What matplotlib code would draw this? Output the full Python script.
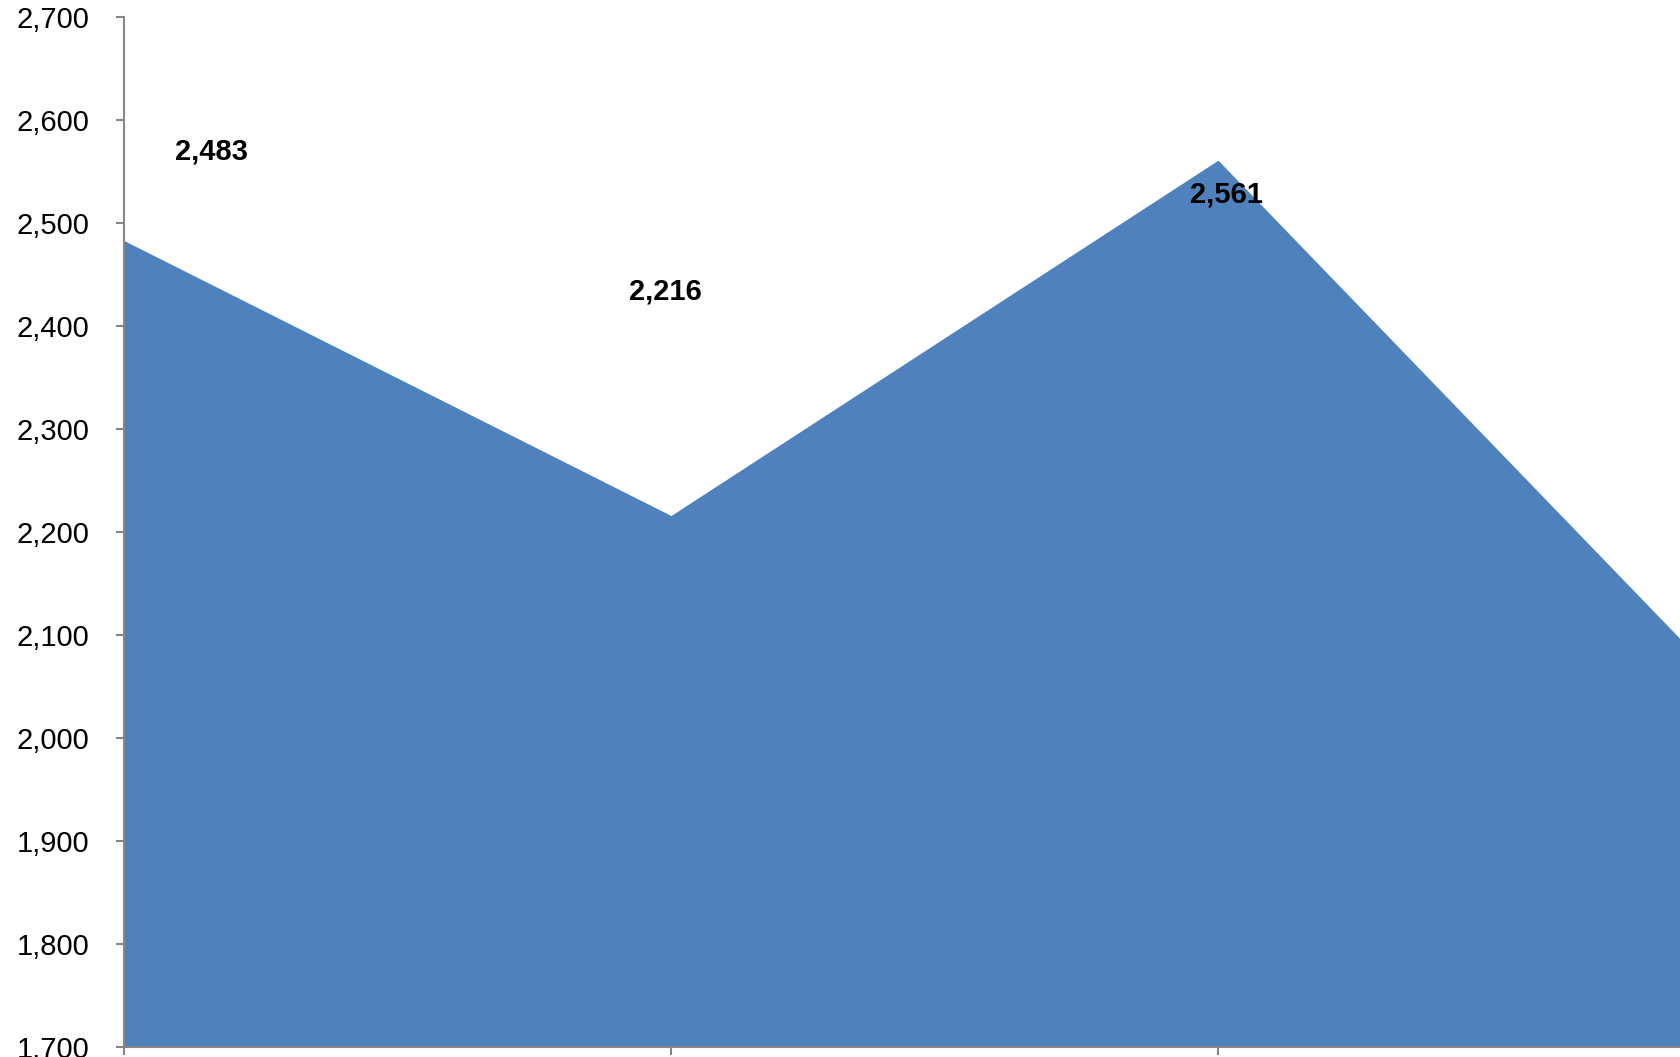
import matplotlib
matplotlib.use("Agg")
import matplotlib.pyplot as plt
from matplotlib.ticker import FuncFormatter, MultipleLocator

plt.rcParams['font.family'] = ['Liberation Sans', 'DejaVu Sans']

categories = ["1", "2", "3", "4"]
values = [2483, 2216, 2561, 2011]
shown_labels = [0, 1, 2]
label_offsets = [(62.6, 64.0), (-4.3, 161.0), (5.8, -25.0)]

fig = plt.figure(figsize=(16.8, 10.57), dpi=100)
ax = fig.add_axes([124 / 1680, 10 / 1057, (1765 - 124) / 1680, 1030 / 1057])

x = list(range(len(categories)))
ax.fill_between(x, 1700, values, color="#4F81BD", linewidth=0)

ax.set_xlim(0, len(categories) - 1)
ax.set_ylim(1700, 2700)
ax.yaxis.set_major_locator(MultipleLocator(100))
ax.yaxis.set_major_formatter(FuncFormatter(lambda v, p: f"{int(v):,}"))
ax.set_xticks(x)
ax.set_xticklabels([])

for s in ["top", "right"]:
    ax.spines[s].set_visible(False)
for s in ["left", "bottom"]:
    ax.spines[s].set_color("#868686")
    ax.spines[s].set_linewidth(1.5)

ax.tick_params(axis="y", direction="out", length=6, width=1.5, color="#868686",
               labelsize=21, pad=19, labelcolor="black")
ax.tick_params(axis="x", direction="out", length=6, width=1.5, color="#868686")

for i, (dx, dy) in zip(shown_labels, label_offsets):
    ax.annotate(f"{values[i]:,}", xy=(x[i], values[i]), xytext=(dx, dy),
                textcoords="offset points", ha="center", va="center",
                fontsize=21, fontweight="bold", color="black",
                annotation_clip=False)

fig.savefig("out.png", dpi=100)
